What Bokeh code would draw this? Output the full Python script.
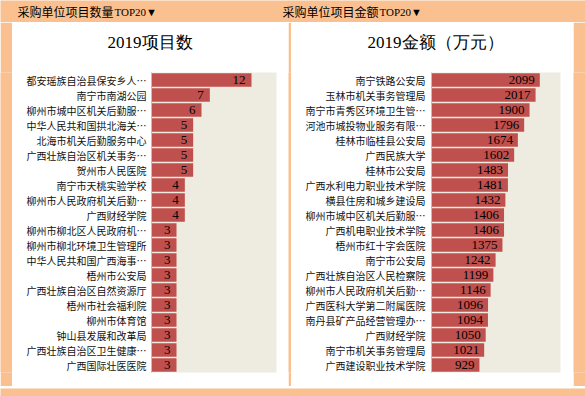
from bokeh.plotting import figure
from bokeh.layouts import column, row
from bokeh.models import ColumnDataSource, FactorRange, Range1d, LabelSet, Label, Title
from bokeh.core.properties import value
from bokeh.embed import file_html
from bokeh.resources import INLINE

ORANGE = "#FAC090"
BEIGE = "#EEECE1"
RED = "#C0504D"

header_left = "采购单位项目数量"
header_right = "采购单位项目金额"
header_suffix = "TOP20▼"

count_title = "2019项目数"
count_names = [
    "都安瑶族自治县保安乡人…",
    "南宁市南湖公园",
    "柳州市城中区机关后勤服…",
    "中华人民共和国拱北海关…",
    "北海市机关后勤服务中心",
    "广西壮族自治区机关事务…",
    "贺州市人民医院",
    "南宁市天桃实验学校",
    "柳州市人民政府机关后勤…",
    "广西财经学院",
    "柳州市柳北区人民政府机…",
    "柳州市柳北环境卫生管理所",
    "中华人民共和国广西海事…",
    "梧州市公安局",
    "广西壮族自治区自然资源厅",
    "梧州市社会福利院",
    "柳州市体育馆",
    "钟山县发展和改革局",
    "广西壮族自治区卫生健康…",
    "广西国际壮医医院",
]
count_values = [12, 7, 6, 5, 5, 5, 5, 4, 4, 4, 3, 3, 3, 3, 3, 3, 3, 3, 3, 3]
count_axis_max = 15

amount_title = "2019金额（万元）"
amount_names = [
    "南宁铁路公安局",
    "玉林市机关事务管理局",
    "南宁市青秀区环境卫生管…",
    "河池市城投物业服务有限…",
    "桂林市临桂县公安局",
    "广西民族大学",
    "桂林市公安局",
    "广西水利电力职业技术学院",
    "横县住房和城乡建设局",
    "柳州市城中区机关后勤服…",
    "广西机电职业技术学院",
    "梧州市红十字会医院",
    "南宁市公安局",
    "广西壮族自治区人民检察院",
    "柳州市人民政府机关后勤…",
    "广西医科大学第二附属医院",
    "南丹县矿产品经营管理办…",
    "广西财经学院",
    "南宁市机关事务管理局",
    "广西建设职业技术学院",
]
amount_values = [2099, 2017, 1900, 1796, 1674, 1602, 1483, 1481, 1432, 1406,
                 1406, 1375, 1242, 1199, 1146, 1096, 1094, 1050, 1021, 929]
amount_axis_max = 2500

CJK = "Noto Sans CJK SC"
SERIF = "Liberation Serif"


def blank(w, h, color):
    f = figure(width=w, height=h, output_backend="svg", toolbar_location=None,
               x_range=Range1d(0, w), y_range=Range1d(h, 0),
               x_axis_location=None, y_axis_location=None, min_border=0)
    f.grid.visible = False
    f.outline_line_color = None
    f.border_fill_color = color
    f.background_fill_color = color
    return f


def bars_fig(names, values, title, xmax, width, border_left, border_right,
             standoff, num_gap, title_offset):
    p = figure(width=width, height=364, output_backend="svg", toolbar_location=None,
               y_range=FactorRange(factors=names[::-1]), x_range=Range1d(0, xmax),
               x_axis_location=None,
               min_border_left=border_left, min_border_right=border_right,
               min_border_top=50, min_border_bottom=14)
    p.title = Title(text=title, align="left", offset=title_offset,
                    vertical_align="bottom", standoff=16,
                    text_font=SERIF, text_font_size="17px", text_font_style="normal",
                    text_color="#000000")
    # blank gap between the title and the plot area
    p.add_layout(Title(text=" ", standoff=0, text_font_size="10px",
                       text_color="white"), "above")
    p.border_fill_color = "white"
    p.background_fill_color = BEIGE
    p.outline_line_color = None
    p.grid.visible = False
    p.yaxis.axis_line_color = "#BFBFBF"
    p.yaxis.major_tick_line_color = None
    p.yaxis.minor_tick_line_color = None
    p.yaxis.major_tick_out = 0
    p.yaxis.major_tick_in = 0
    p.yaxis.major_label_standoff = standoff
    p.yaxis.major_label_text_font = CJK
    p.yaxis.major_label_text_font_size = "10px"
    p.yaxis.major_label_text_color = "#111111"

    src = ColumnDataSource(dict(name=names, value=values,
                                text=[str(v) for v in values]))
    p.hbar(y="name", right="value", height=0.9, source=src,
           fill_color=RED, line_color=None)
    p.add_layout(LabelSet(x="value", y="name", text="text", x_offset=-num_gap, source=src,
                          text_align="right", text_baseline="middle",
                          text_font=value(SERIF), text_font_size="13px",
                          text_color="#000000"))
    return p


hdr = blank(585, 22, ORANGE)
for x0, txt in [(17, header_left), (282, header_right)]:
    hdr.add_layout(Label(x=x0, y=11, text=txt, text_align="left", text_baseline="middle",
                         text_font=CJK, text_font_size="12px", text_color="#000000"))
    hdr.add_layout(Label(x=x0 + 97, y=11, text=header_suffix, text_align="left",
                         text_baseline="middle", text_font=SERIF,
                         text_font_size="11px", text_color="#000000"))

left_panel = bars_fig(count_names, count_values, count_title, count_axis_max,
                      276, 139, 12, 5, 6, -44)
right_panel = bars_fig(amount_names, amount_values, amount_title, amount_axis_max,
                       282, 140, 13, 6, 5, -64)

p = column(hdr,
           row(blank(12, 364, ORANGE), left_panel, blank(3, 364, ORANGE),
               right_panel, blank(12, 364, ORANGE)),
           blank(585, 10, ORANGE))
open("out.html", "w").write(file_html(p, INLINE))
